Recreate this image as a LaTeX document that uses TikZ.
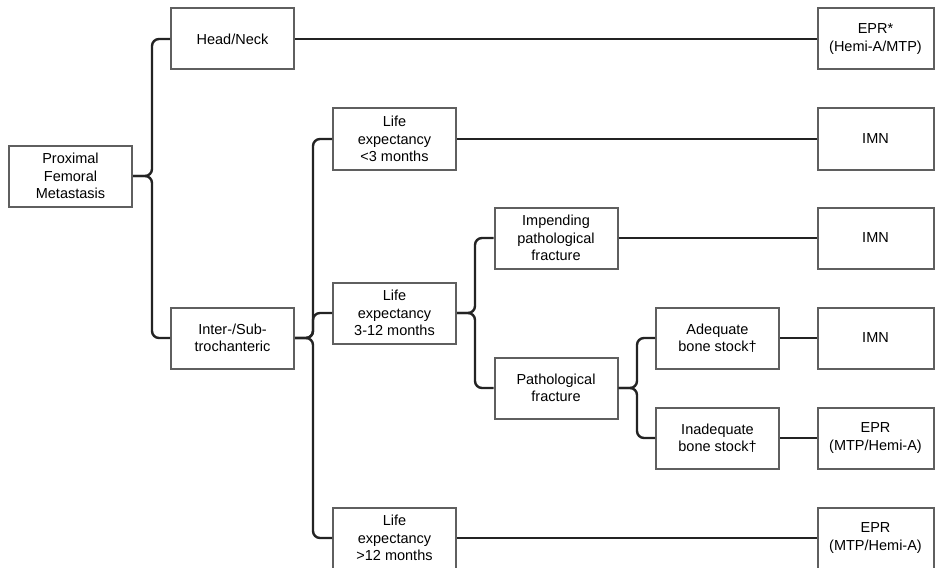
\documentclass[tikz,border=0pt]{standalone}
\usepackage{fontspec}
\setmainfont{Liberation Sans}
\definecolor{boxgray}{RGB}{95,95,95}
\definecolor{linkgray}{RGB}{35,35,35}

\begin{document}
\begin{tikzpicture}[x=1pt, y=-1pt,
	every node/.style={font=\fontsize{14.5}{17.5}\selectfont},
	box/.style={draw=boxgray, line width=2pt, minimum width=123pt, minimum height=61pt, align=center, inner sep=2pt},
	link/.style={draw=linkgray, line width=2.4pt, rounded corners=7pt}]
	\useasboundingbox (0,0) rectangle (936,567);
	\node[box] (prox) at (70.5,176) {Proximal\\Femoral\\Metastasis};
	\node[box] (head) at (232.5,39) {Head/Neck};
	\node[box] (inter) at (232.5,338) {Inter-/Sub-\\trochanteric};
	\node[box] (lifeA) at (394.5,139) {Life\\expectancy\\<3 months};
	\node[box] (lifeB) at (394.5,313) {Life\\expectancy\\3-12 months};
	\node[box] (lifeC) at (394.5,538) {Life\\expectancy\\>12 months};
	\node[box] (impend) at (556,238) {Impending\\pathological\\fracture};
	\node[box] (path) at (556,388) {Pathological\\fracture};
	\node[box] (adeq) at (717.5,338) {Adequate\\bone stock†};
	\node[box] (inadeq) at (717.5,438) {Inadequate\\bone stock†};
	\node[box, minimum width=116pt] (eprA) at (875.5,39) {EPR*\\(Hemi-A/MTP)};
	\node[box, minimum width=116pt] (imnA) at (875.5,139) {IMN};
	\node[box, minimum width=116pt] (imnB) at (875.5,238) {IMN};
	\node[box, minimum width=116pt] (imnC) at (875.5,338) {IMN};
	\node[box, minimum width=116pt] (eprB) at (875.5,438) {EPR\\(MTP/Hemi-A)};
	\node[box, minimum width=116pt] (eprC) at (875.5,538) {EPR\\(MTP/Hemi-A)};

	\coordinate (jprox) at (152,176);
	\coordinate (jinter) at (313,338);
	\coordinate (jlife) at (475,313);
	\coordinate (jpath) at (637,388);

	\foreach \c in {head,inter}
		\draw[link] (prox.east) -- (jprox) |- (\c.west);
	\foreach \c in {lifeA,lifeB,lifeC}
		\draw[link] (inter.east) -- (jinter) |- (\c.west);
	\foreach \c in {impend,path}
		\draw[link] (lifeB.east) -- (jlife) |- (\c.west);
	\foreach \c in {adeq,inadeq}
		\draw[link] (path.east) -- (jpath) |- (\c.west);

	\draw[link] (head.east) -- (eprA.west);
	\draw[link] (lifeA.east) -- (imnA.west);
	\draw[link] (impend.east) -- (imnB.west);
	\draw[link] (adeq.east) -- (imnC.west);
	\draw[link] (inadeq.east) -- (eprB.west);
	\draw[link] (lifeC.east) -- (eprC.west);
\end{tikzpicture}
\end{document}
